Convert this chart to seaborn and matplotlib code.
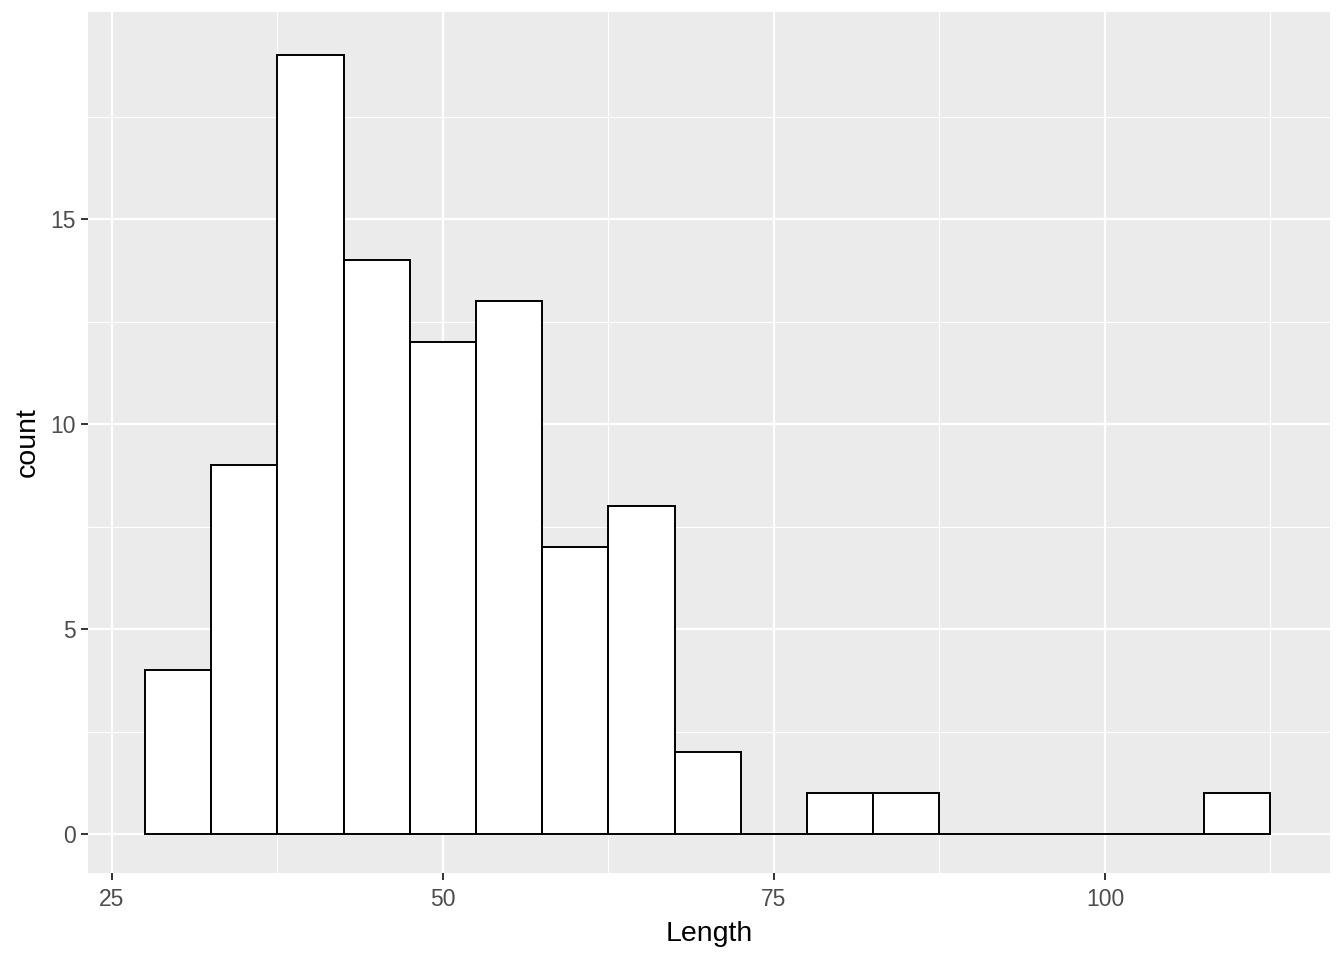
import numpy as np
import pandas as pd
import matplotlib
matplotlib.use("Agg")
import matplotlib.pyplot as plt
import seaborn as sns

# histogram bins (width 5)
bin_edges = [27.5, 32.5, 37.5, 42.5, 47.5, 52.5, 57.5, 62.5, 67.5, 72.5,
             77.5, 82.5, 87.5, 92.5, 97.5, 102.5, 107.5, 112.5]
counts = [4, 9, 19, 14, 12, 13, 7, 8, 2, 0, 1, 1, 0, 0, 0, 0, 1]

centers = [(a + b) / 2 for a, b in zip(bin_edges[:-1], bin_edges[1:])]
df = pd.DataFrame({"Length": centers, "n": counts})

sns.set_style("darkgrid", {"axes.facecolor": "#EBEBEB", "grid.color": "white",
                           "xtick.bottom": True, "ytick.left": True})
plt.rcParams["font.family"] = ["Liberation Sans", "DejaVu Sans"]

fig = plt.figure(figsize=(13.44, 9.6), dpi=100)
ax = fig.add_axes([0.0655, 0.0906, 0.9241, 0.8969])

sns.histplot(data=df, x="Length", weights="n", bins=bin_edges,
             color="white", edgecolor="black", linewidth=1.4, alpha=1, ax=ax)

ax.set_xlim(23.19, 117.0)
ax.set_ylim(-0.95, 20.05)
ax.set_xticks([25, 50, 75, 100])
ax.set_yticks([0, 5, 10, 15])
ax.set_xticks([37.5, 62.5, 87.5, 112.5], minor=True)
ax.set_yticks([2.5, 7.5, 12.5, 17.5], minor=True)
ax.grid(which="major", color="white", linewidth=1.6)
ax.grid(which="minor", color="white", linewidth=0.8)
ax.set_axisbelow(True)
for s in ax.spines.values():
    s.set_visible(False)

ax.tick_params(which="major", length=5, width=1.4, color="#333333",
               labelsize=16.5, labelcolor="#4D4D4D")
ax.tick_params(axis="x", pad=6)
ax.tick_params(axis="y", pad=4)
ax.tick_params(which="minor", length=0)
ax.set_xlabel("Length", fontsize=20.5, color="black", labelpad=7)
ax.set_ylabel("count", fontsize=20.5, color="black", labelpad=7)

fig.savefig("out.png", dpi=100)
